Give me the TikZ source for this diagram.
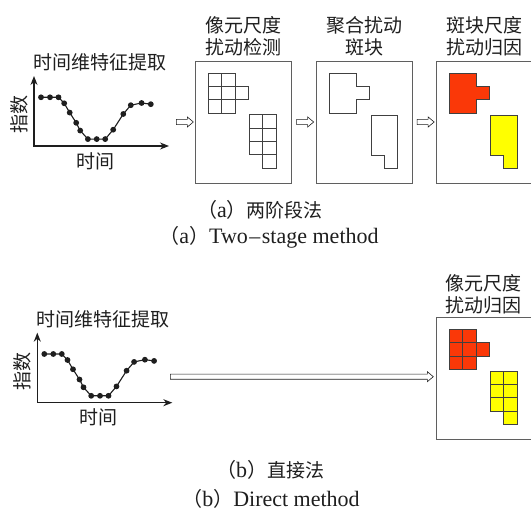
\documentclass[tikz,border=0pt]{standalone}
\usepackage{fontspec}
\newfontfamily\cjk{Noto Sans CJK SC}
\newfontfamily\latin{Liberation Serif}
\usetikzlibrary{arrows.meta,shapes.arrows,calc}

\definecolor{patchred}{RGB}{250,56,8}
\definecolor{patchyellow}{RGB}{255,255,0}
\definecolor{frame}{RGB}{95,95,95}
\definecolor{ink}{RGB}{30,30,30}

\newcommand{\lp}{{\cjk\fontsize{20}{24}\selectfont （}}
\newcommand{\rp}{{\cjk\fontsize{20}{24}\selectfont ）}}

\tikzset{
  cjklabel/.style={font=\cjk\fontsize{19}{22}\selectfont, text=ink, align=center, inner sep=0},
  caption/.style={font=\latin\fontsize{22}{26}\selectfont, text=ink, inner sep=0},
  panel/.style={draw=frame, line width=0.9pt, minimum width=96pt, minimum height=122pt, inner sep=0},
  widepanel/.style={panel, minimum width=99pt},
  hollow/.style={single arrow, draw=ink, line width=0.6pt, fill=white, inner xsep=0pt,
    inner ysep=2.3pt, minimum width=0pt, single arrow head extend=2.4pt,
    single arrow tip angle=80, shape border rotate=0},
  axisline/.style={line width=1.1pt, draw=ink},
  curve/.style={line width=1.1pt, draw=ink},
  cellline/.style={draw=ink!85, line width=0.8pt},
  % temporal index curve with its axes and labels
  pics/series/.style={code={
    \draw[axisline, {Stealth[length=9pt,width=7pt]}-{Stealth[length=9pt,width=7pt]}]
      (0,-70) -- (0,0) -- (135,0);
    \draw[curve] plot[mark=*, mark size=2.3pt, mark options={fill=ink, draw=ink}] coordinates {
      (7,-48.7) (16,-48.7) (24.5,-48.7) (30.2,-42.7) (35.7,-33.4) (42.2,-23.2)
      (46.2,-15.4) (53.9,-6.9) (62.7,-6.9) (71.2,-6.9) (79.2,-16.3) (89.3,-32)
      (96.8,-40.8) (107.6,-43) (116.8,-41.8)};
    \node[cjklabel] (-title) at (66,-83.5) {时间维特征提取};
    \node[cjklabel, rotate=90] (-ylab) at (-15,-31) {指数};
    \node[cjklabel] (-xlab) at (61,15) {时间};
    \coordinate (-out) at (138,-24);
  }},
  % pixel-scale grids (cells of unit size)
  pics/gridA/.style={code={
    \foreach \i/\j in {0/0,1/0,0/1,1/1,2/1,0/2,1/2}
      \draw[cellline, fill=#1] (\i,\j) rectangle ++(1,1);
  }},
  pics/gridA/.default=none,
  pics/gridB/.style={code={
    \foreach \i/\j in {0/0,1/0,0/1,1/1,0/2,1/2,1/3}
      \draw[cellline, fill=#1] (\i,\j) rectangle ++(1,1);
  }},
  pics/gridB/.default=none,
  % merged patch outlines
  pics/blobA/.style={code={
    \draw[cellline, fill=#1] (0,0) -- (2,0) -- (2,1) -- (3,1) -- (3,2) -- (2,2) -- (2,3) -- (0,3) -- cycle;
  }},
  pics/blobA/.default=none,
  pics/blobB/.style={code={
    \draw[cellline, fill=#1] (0,0) -- (2,0) -- (2,4) -- (1,4) -- (1,3) -- (0,3) -- cycle;
  }},
  pics/blobB/.default=none,
}

\begin{document}
\begin{tikzpicture}[x=1pt, y=-1pt]
\useasboundingbox (0,0) rectangle (531,510);

% ---------- (a) two-stage method ----------
\pic (sa) at (34,146) {series};

\node[panel] (b1) at (243,122) {};
\node[panel] (b2) at (364.2,122) {};
\node[widepanel] (b3) at (485.5,122) {};

\node[cjklabel] (t1) at (243,36) {像元尺度\\扰动检测};
\node[cjklabel] (t2) at (364,36) {聚合扰动\\斑块};
\node[cjklabel] (t3) at (484,36) {斑块尺度\\扰动归因};

\pic[scale=13.3] at ($(b1.north west)+(14,12.5)$) {gridA};
\pic[scale=13.3] at ($(b1.north west)+(55,54.2)$) {gridB};
\pic[scale=13.3] at ($(b2.north west)+(14,12.7)$) {blobA};
\pic[scale=13.3] at ($(b2.north west)+(55.5,54.8)$) {blobB};
\pic[scale=13.3] at ($(b3.north west)+(14,12.7)$) {blobA=patchred};
\pic[scale=13.3] at ($(b3.north west)+(54.8,54.8)$) {blobB=patchyellow};

\path (sa-out) -- (b1.west) node[midway, hollow, minimum height=17pt] (h1) {};
\path (b1.east) -- (b2.west) node[midway, hollow, minimum height=17pt] (h2) {};
\path (b2.east) -- (b3.west) node[midway, hollow, minimum height=17pt] (h3) {};

\node[caption] (ca1) at (260,210) {\lp a\rp{\cjk\fontsize{19}{22}\selectfont 两阶段法}};
\node[caption] (ca2) at (269,237) {\lp a\rp Two\kern1.5pt–\kern1.5pt stage method};

% ---------- (b) direct method ----------
\pic (sb) at (37.3,402.7) {series};

\node[widepanel] (b4) at (485.5,378.2) {};
\node[cjklabel] (t4) at (483,294) {像元尺度\\扰动归因};

\pic[scale=13.3] at ($(b4.north west)+(14,12.7)$) {gridA=patchred};
\pic[scale=13.3] at ($(b4.north west)+(55,54.4)$) {gridB=patchyellow};

\coordinate (lstart) at (170,376.7);
\path (lstart) -- (b4.west) node[pos=0, anchor=tail, hollow, minimum height=263pt] (h4) {};

\node[caption] (cb1) at (270,470) {\lp b\rp{\cjk\fontsize{19}{22}\selectfont 直接法}};
\node[caption] (cb2) at (271,499) {\lp b\rp Direct method};
\end{tikzpicture}
\end{document}
